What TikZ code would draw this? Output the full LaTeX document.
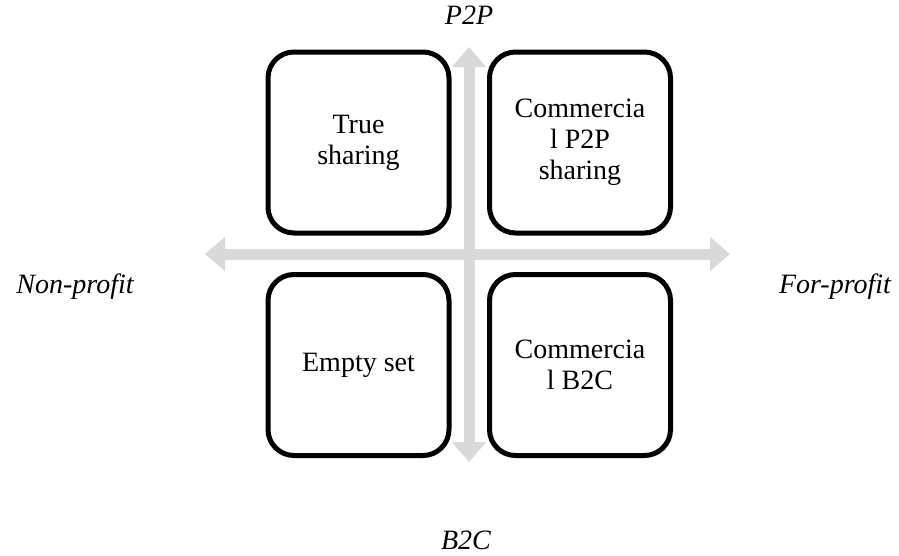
\documentclass[tikz,border=0pt]{standalone}
\usepackage{fontspec}
\setmainfont{Liberation Serif}
\usetikzlibrary{arrows.meta}
\definecolor{axisgray}{HTML}{D9D9D9}
\begin{document}
\begin{tikzpicture}[x=1pt,y=-1pt,
  quad/.style={draw=black, line width=5pt, rounded corners=26pt, fill=white,
    minimum width=181pt, minimum height=181pt, inner sep=0pt,
    align=center, font=\fontsize{28}{31}\selectfont},
  axis/.style={draw=axisgray, line width=11pt,
    {Triangle[width=33pt,length=20pt]}-{Triangle[width=33pt,length=20pt]}},
  lab/.style={font=\fontsize{28}{31}\selectfont\itshape}]
\useasboundingbox (0,0) rectangle (899,555);
\coordinate (top) at (469,47);
\coordinate (bot) at (469,462);
\coordinate (lft) at (205,254);
\coordinate (rgt) at (730,254);
\draw[axis] (top) -- (bot);
\draw[axis] (lft) -- (rgt);
\node[quad] (tl) at (358.5,142.5) {True\\sharing};
\node[quad] (tr) at (580,142.5) {Commercia\\l P2P\\sharing};
\node[quad] (bl) at (358.5,365) {Empty set};
\node[quad] (br) at (580,365) {Commercia\\l B2C};
\node[lab] (p2p) at (469,15) {P2P};
\node[lab] (b2c) at (466,540) {B2C};
\node[lab] (np) at (75,287) {Non-profit};
\node[lab] (fp) at (835,287) {For-profit};
\end{tikzpicture}
\end{document}
